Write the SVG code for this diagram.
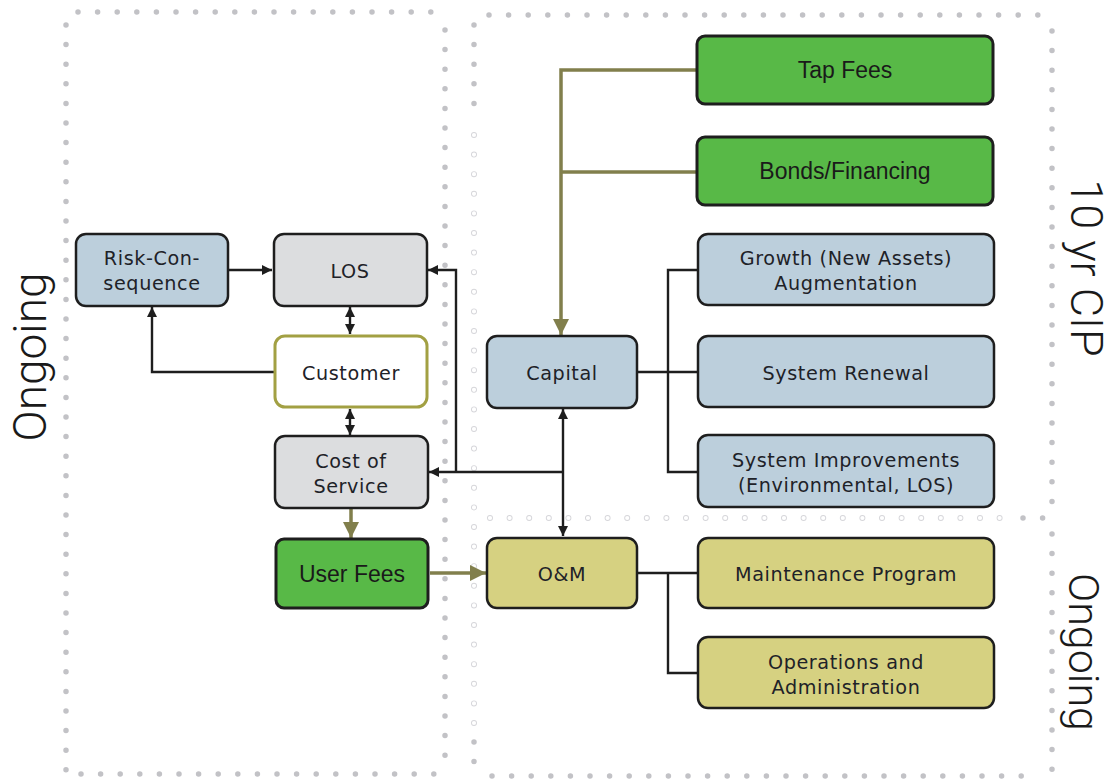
<svg xmlns="http://www.w3.org/2000/svg" width="1114" height="780" viewBox="0 0 1114 780">
  <defs>
    <marker id="arr" viewBox="0 0 10 10" refX="10" refY="5" markerWidth="10" markerHeight="10" markerUnits="userSpaceOnUse" orient="auto-start-reverse">
      <path d="M0,0 L10,5 L0,10 Z" fill="#1e1e1e"/>
    </marker>
    <marker id="arrOlive" viewBox="0 0 10 10" refX="10" refY="5" markerWidth="16" markerHeight="16" markerUnits="userSpaceOnUse" orient="auto">
      <path d="M0,0 L10,5 L0,10 Z" fill="#817f4c"/>
    </marker>
  </defs>
  <style>
    .dots { fill: none; stroke: #c2c2c6; stroke-width: 5.5; stroke-linecap: round; stroke-dasharray: 0 19.6; }
    .ring { fill: none; stroke: #d6d6da; stroke-width: 6; stroke-linecap: round; stroke-dasharray: 0 19.6; }
    .ringHole { fill: none; stroke: #ffffff; stroke-width: 4.2; stroke-linecap: round; stroke-dasharray: 0 19.6; }
    .box { stroke: #1e1e1e; stroke-width: 2.5; }
    .blue { fill: #bccfdc; }
    .grey { fill: #dcdddf; }
    .khaki { fill: #d6d181; }
    .green { fill: #58b947; stroke-width: 3; }
    .cust { fill: #ffffff; stroke: #a2a043; stroke-width: 3; }
    .lbl { font-family: "DejaVu Sans", sans-serif; font-size: 19.2px; fill: #1e2228; text-anchor: middle; letter-spacing: 0.6px; }
    .lblA { font-family: "Liberation Sans", Arial, sans-serif; font-size: 23px; fill: #1a1a1a; text-anchor: middle; }
    .side { font-family: Roboto, "Liberation Sans", sans-serif; font-weight: 300; font-size: 46px; fill: #1a1a1a; text-anchor: middle; }
    .con { fill: none; stroke: #1e1e1e; stroke-width: 2.4; }
    .olive { fill: none; stroke: #817f4c; stroke-width: 3.5; }
  </style>

  <!-- dotted region outlines -->
  <g id="regions">
    <!-- left ongoing region -->
    <path class="dots" d="M78,12 H440"/>
    <path class="dots" d="M66,25 V770"/>
    <path class="dots" d="M445,30 V772"/>
    <path class="dots" d="M81,774 H440"/>
    <!-- right region -->
    <path class="dots" d="M489,15 H1042"/>
    <path class="dots" d="M1052,31 V510"/>
    <path class="dots" d="M1052,534 V770"/>
    <path class="dots" d="M492,776 H1040"/>
    <path class="dots" d="M474,25 V120"/>
    <path class="dots" d="M474,742 V770"/>
    <!-- faint ring dots -->
    <path class="ring" d="M474,135 V725"/>
    <path class="ringHole" d="M474,135 V725"/>
    <path class="ring" d="M490,518 H1005"/>
    <path class="ringHole" d="M490,518 H1005"/>
    <path class="dots" d="M1023,518 H1043"/>
  </g>

  <!-- side labels -->
  <text class="side" transform="translate(46,357) rotate(-90)">Ongoing</text>
  <text class="side" style="font-size:45px" transform="translate(1071,268) rotate(90)">10 yr CIP</text>
  <text class="side" style="font-size:43px" transform="translate(1069,652) rotate(90)">Ongoing</text>

  <!-- connectors -->
  <g id="connectors">
    <path class="con" d="M228,270 H272" marker-end="url(#arr)"/>
    <path class="con" d="M274,372 H152 V307" marker-end="url(#arr)"/>
    <path class="con" d="M350,307 V334" marker-start="url(#arr)" marker-end="url(#arr)"/>
    <path class="con" d="M350,409 V435" marker-start="url(#arr)" marker-end="url(#arr)"/>
    <path class="con" d="M563,472 H429" marker-end="url(#arr)"/>
    <path class="con" d="M456,472 V270 H428" marker-end="url(#arr)"/>
    <path class="con" d="M563,472 V409" marker-end="url(#arr)"/>
    <path class="con" d="M563,472 V536" marker-end="url(#arr)"/>
    <path class="con" d="M637,372 H698"/>
    <path class="con" d="M698,270 H668 V472 H698"/>
    <path class="con" d="M637,573 H698"/>
    <path class="con" d="M668,573 V673 H698"/>
    <path class="olive" d="M697,70 H561 V335" marker-end="url(#arrOlive)"/>
    <path class="olive" d="M697,172 H561"/>
    <path class="olive" d="M351,509 V538" marker-end="url(#arrOlive)"/>
    <path class="olive" d="M430,573 H486" marker-end="url(#arrOlive)"/>
  </g>

  <!-- nodes -->
  <g id="risk">
    <rect class="box blue" x="76" y="234" width="152" height="72" rx="10"/>
    <text class="lbl" x="152" y="265">Risk-Con-</text>
    <text class="lbl" x="152" y="290">sequence</text>
  </g>
  <g id="los">
    <rect class="box grey" x="274" y="234" width="153" height="72" rx="10"/>
    <text class="lbl" x="350" y="278">LOS</text>
  </g>
  <g id="customer">
    <rect class="cust" x="275" y="336" width="152" height="71" rx="10"/>
    <text class="lbl" x="351" y="380">Customer</text>
  </g>
  <g id="cost-of-service">
    <rect class="box grey" x="275" y="436" width="153" height="72" rx="10"/>
    <text class="lbl" x="351" y="468">Cost of</text>
    <text class="lbl" x="351" y="493">Service</text>
  </g>
  <g id="user-fees">
    <rect class="box green" x="276" y="539" width="152" height="69" rx="8"/>
    <text class="lblA" x="352" y="582">User Fees</text>
  </g>
  <g id="capital">
    <rect class="box blue" x="487" y="336" width="150" height="72" rx="10"/>
    <text class="lbl" x="562" y="380">Capital</text>
  </g>
  <g id="om">
    <rect class="box khaki" x="487" y="538" width="150" height="70" rx="10"/>
    <text class="lbl" x="562" y="581">O&amp;M</text>
  </g>
  <g id="tap-fees">
    <rect class="box green" x="697" y="36" width="296" height="68" rx="8"/>
    <text class="lblA" x="845" y="78">Tap Fees</text>
  </g>
  <g id="bonds-financing">
    <rect class="box green" x="697" y="137" width="296" height="68" rx="8"/>
    <text class="lblA" x="845" y="179">Bonds/Financing</text>
  </g>
  <g id="growth">
    <rect class="box blue" x="698" y="234" width="296" height="71" rx="10"/>
    <text class="lbl" x="846" y="265">Growth (New Assets)</text>
    <text class="lbl" x="846" y="290">Augmentation</text>
  </g>
  <g id="system-renewal">
    <rect class="box blue" x="698" y="336" width="296" height="71" rx="10"/>
    <text class="lbl" x="846" y="380">System Renewal</text>
  </g>
  <g id="system-improvements">
    <rect class="box blue" x="698" y="435" width="296" height="72" rx="10"/>
    <text class="lbl" x="846" y="467">System Improvements</text>
    <text class="lbl" x="846" y="492">(Environmental, LOS)</text>
  </g>
  <g id="maintenance-program">
    <rect class="box khaki" x="698" y="538" width="296" height="70" rx="10"/>
    <text class="lbl" x="846" y="581">Maintenance Program</text>
  </g>
  <g id="operations-administration">
    <rect class="box khaki" x="698" y="637" width="296" height="71" rx="10"/>
    <text class="lbl" x="846" y="669">Operations and</text>
    <text class="lbl" x="846" y="694">Administration</text>
  </g>
</svg>
